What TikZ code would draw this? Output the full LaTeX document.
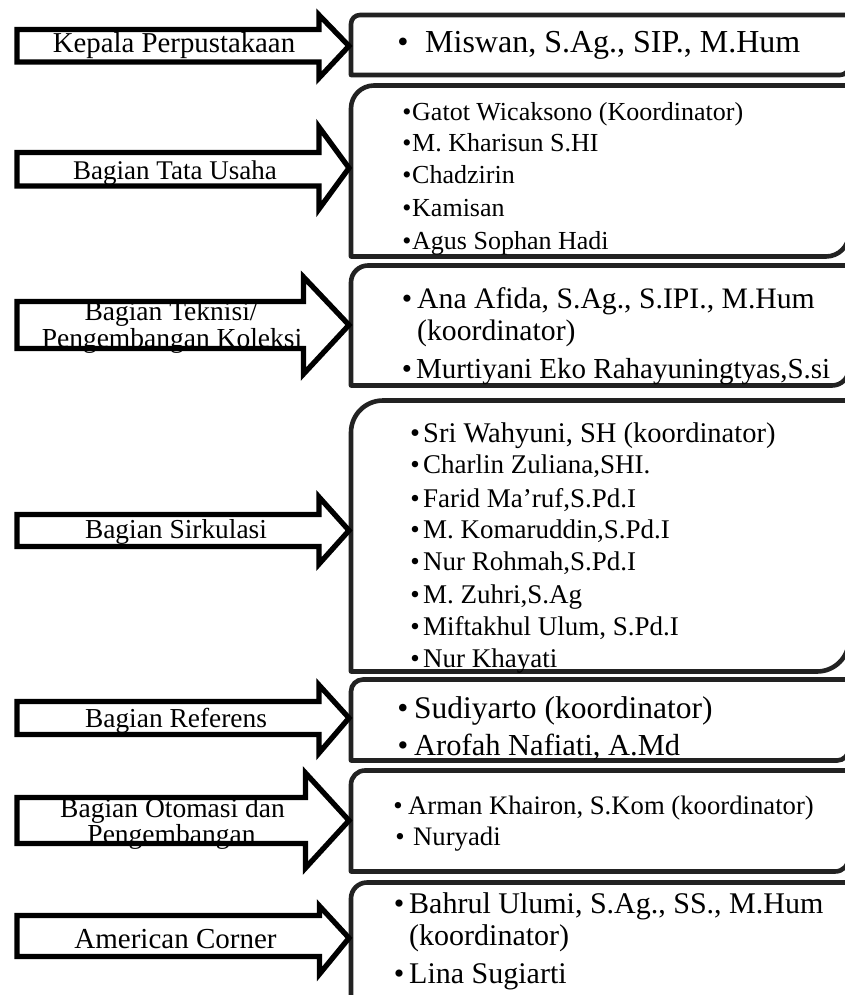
\documentclass[tikz,border=0pt]{standalone}
\usepackage{fontspec}
\setmainfont{Liberation Serif}
\definecolor{boxc}{HTML}{222222}
\newcommand\fs[1]{\fontsize{#1}{#1}\selectfont}
\tikzset{
  arrowline/.style={draw=black,line width=5.3pt,line join=miter,fill=white},
  boxline/.style={draw=boxc,line width=4.6pt,line join=round,fill=white},
  lbl/.style={anchor=base,inner sep=0pt,text=black},
  itemtxt/.style={anchor=base west,inner sep=0pt,text=black},
  itembul/.style={anchor=base,inner sep=0pt,text=black}
}
% name, bullet x, text x, baseline y, size, text
\newcommand\itm[6]{%
  \node[itembul,font=\fs{#5}] (#1-b) at (#2,-#4) {\textbullet};
  \node[itemtxt,font=\fs{#5}] (#1) at (#3,-#4) {#6};}
% plain continuation line: name, x, y, size, text
\newcommand\cont[5]{\node[itemtxt,font=\fs{#4}] (#1) at (#2,-#3) {#5};}
% block arrow: shaft top, shaft bottom, head x, head top, head bottom, tip y
\newcommand\blockarrow[6]{%
  \draw[arrowline] (17,-#1) -- (#3,-#1) -- (#3,-#4) -- (349,-#6) -- (#3,-#5) -- (#3,-#2) -- (17,-#2) -- cycle;}
% box: top, bottom, radius
\newcommand\rbox[3]{%
  \draw[boxline] (351,-#2) -- (351,-#1-#3) arc[start angle=180,end angle=90,radius=#3] -- (849,-#1) -- (849,-#2+#3) arc[start angle=0,end angle=-90,radius=#3] -- cycle;}
\begin{document}
\begin{tikzpicture}[x=1pt,y=1pt]
\clip (0,0) rectangle (845,-995);
\fill[white] (0,0) rectangle (845,-995);

% ---------- boxes ----------
\rbox{15}{75}{9}
\rbox{85.5}{256.5}{23}
\rbox{265.5}{385.5}{17}
\rbox{400.5}{671.5}{32}
\rbox{679.5}{760.5}{12}
\rbox{770.5}{871.5}{14}
\rbox{882.5}{1020}{16}

% ---------- arrows ----------
\blockarrow{29.5}{62}{319}{15}{78}{46}
\blockarrow{152.5}{186}{319}{127}{209}{168}
\blockarrow{301.5}{348.5}{303.5}{277}{374}{325}
\blockarrow{514.5}{546.5}{319}{497}{564}{530.5}
\blockarrow{701.5}{734.5}{319}{685}{753}{718}
\blockarrow{797.5}{843.5}{305.5}{773}{868}{820.5}
\blockarrow{915.5}{956.5}{319.5}{906}{974}{938}

% ---------- arrow labels ----------
\node[lbl,font=\fs{28.8}] (a1) at (174,-53) {Kepala Perpustakaan};
\node[lbl,font=\fs{27}] (a2) at (175,-180) {Bagian Tata Usaha};
\node[lbl,font=\fs{27.5}] (a3a) at (171,-320) {Bagian Teknisi/};
\node[lbl,font=\fs{27.5}] (a3b) at (172,-347) {Pengembangan Koleksi};
\node[lbl,font=\fs{27.4}] (a4) at (176,-538) {Bagian Sirkulasi};
\node[lbl,font=\fs{27.4}] (a5) at (176,-727) {Bagian Referens};
\node[lbl,font=\fs{27.5}] (a6a) at (172.5,-817) {Bagian Otomasi dan};
\node[lbl,font=\fs{27.5}] (a6b) at (171.5,-843) {Pengembangan};
\node[lbl,font=\fs{29}] (a7) at (175.5,-948) {American Corner};

% ---------- box texts ----------
\itm{k1}{403}{425}{53}{32}{Miswan, S.Ag., SIP., M.Hum}

\itm{t1}{407}{412}{120.7}{26}{Gatot Wicaksono (Koordinator)}
\itm{t2}{407}{412}{151.7}{26}{M. Kharisun S.HI}
\itm{t3}{407}{412}{184}{26}{Chadzirin}
\itm{t4}{407}{412}{216.7}{26}{Kamisan}
\itm{t5}{407}{412}{249.3}{26}{Agus Sophan Hadi}

\itm{p1}{407}{417}{308}{29.7}{Ana Afida, S.Ag., S.IPI., M.Hum}
\cont{p1b}{417}{340}{29.7}{(koordinator)}
\itm{p2}{407}{416}{378}{29}{Murtiyani Eko Rahayuningtyas,S.si}

\itm{s1}{415}{423}{442}{28.5}{Sri Wahyuni, SH (koordinator)}
\itm{s2}{415}{423}{473}{27}{Charlin Zuliana,SHI.}
\itm{s3}{415}{423}{507}{27}{Farid Ma’ruf,S.Pd.I}
\itm{s4}{415}{423}{538}{27}{M. Komaruddin,S.Pd.I}
\itm{s5}{415}{423}{570}{27}{Nur Rohmah,S.Pd.I}
\itm{s6}{415}{423}{603}{27}{M. Zuhri,S.Ag}
\itm{s7}{415}{423}{635}{27}{Miftakhul Ulum, S.Pd.I}
\itm{s8}{415}{423}{667}{27}{Nur Khayati}

\itm{r1}{403}{414}{718}{31.5}{Sudiyarto (koordinator)}
\itm{r2}{403}{414}{755}{30.5}{Arofah Nafiati, A.Md}

\itm{o1}{398}{408}{814}{26.7}{Arman Khairon, S.Kom (koordinator)}
\itm{o2}{400}{413}{845}{26.7}{Nuryadi}

\itm{c1}{399}{409}{913}{30}{Bahrul Ulumi, S.Ag., SS., M.Hum}
\cont{c1b}{409}{945}{30}{(koordinator)}
\itm{c2}{399}{409}{983}{30}{Lina Sugiarti}
\end{tikzpicture}
\end{document}
